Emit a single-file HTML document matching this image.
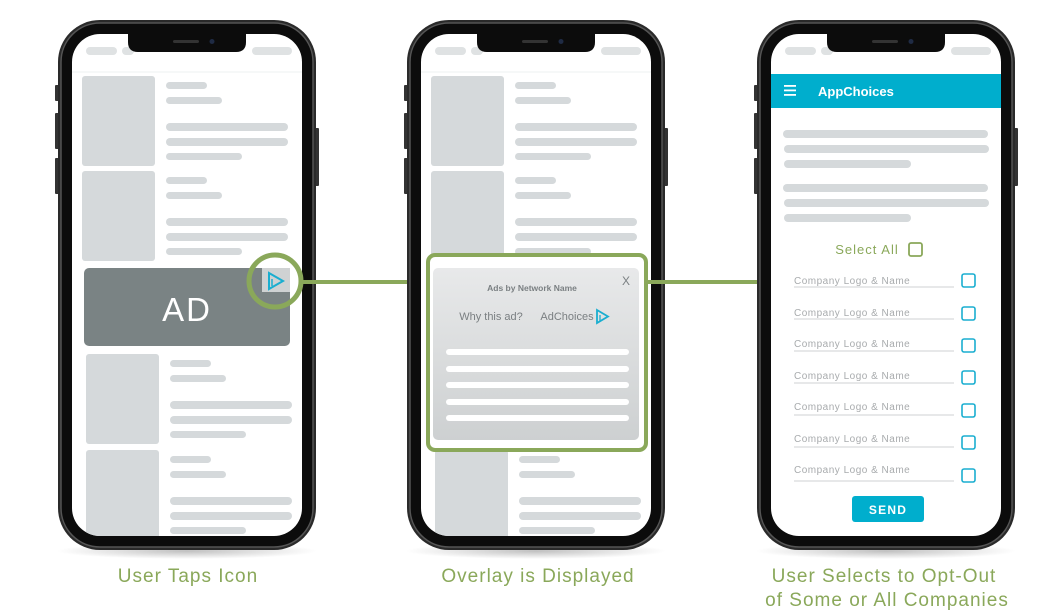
<!DOCTYPE html>
<html><head><meta charset="utf-8"><style>
html,body{margin:0;padding:0;background:#fff;}
svg{display:block;font-family:"Liberation Sans",sans-serif;}
</style></head><body>
<svg width="1061" height="616" viewBox="0 0 1061 616" xmlns="http://www.w3.org/2000/svg">
<defs>
<linearGradient id="ov" x1="0" y1="0" x2="0" y2="1"><stop offset="0" stop-color="#e8e9ea"/><stop offset="1" stop-color="#cdd0d1"/></linearGradient>
<radialGradient id="sh" cx="0.5" cy="0.5" r="0.5"><stop offset="0" stop-color="#000" stop-opacity="0.25"/><stop offset="1" stop-color="#000" stop-opacity="0"/></radialGradient>
<clipPath id="scr"><rect x="72" y="34" width="230" height="502" rx="28"/></clipPath>
<g id="phone">
  <ellipse cx="187" cy="551" rx="130" ry="8" fill="url(#sh)"/>
  <rect x="55" y="85" width="5" height="16" rx="1" fill="#333"/>
  <rect x="55" y="113" width="5" height="36" rx="1" fill="#333"/>
  <rect x="55" y="158" width="5" height="36" rx="1" fill="#333"/>
  <rect x="314" y="128" width="5" height="58" rx="1" fill="#333"/>
  <rect x="58" y="20" width="258" height="530" rx="42" fill="#2a2a2a"/>
  <rect x="61" y="23" width="252" height="524" rx="39" fill="#0c0c0c" stroke="#555" stroke-width="1.5"/>
  <rect x="72" y="34" width="230" height="502" rx="28" fill="#fff"/>
</g>
<g id="top">
  <rect x="86" y="47" width="31" height="8" rx="4" fill="#dfe2e3"/>
  <rect x="122" y="47" width="12" height="8" rx="4" fill="#dfe2e3"/>
  <rect x="252" y="47" width="40" height="8" rx="4" fill="#dfe2e3"/>
  <path d="M128 34 H246 V42 Q246 52 236 52 H138 Q128 52 128 42 Z" fill="#0c0c0c"/>
  <rect x="173" y="40" width="26" height="3" rx="1.5" fill="#333"/>
  <circle cx="212" cy="41.5" r="2.5" fill="#1f2b44"/>
</g>
<g id="blk">
  <rect x="0" y="0" width="73" height="90" rx="3" fill="#d5d9db"/>
  <rect x="84" y="6" width="41" height="7" rx="3.5" fill="#d5d9db"/>
  <rect x="84" y="21" width="56" height="7" rx="3.5" fill="#d5d9db"/>
  <rect x="84" y="47" width="122" height="8" rx="4" fill="#d5d9db"/>
  <rect x="84" y="62" width="122" height="8" rx="4" fill="#d5d9db"/>
  <rect x="84" y="77" width="76" height="7" rx="3.5" fill="#d5d9db"/>
</g>
<g id="feed">
  <line x1="72" y1="72" x2="302" y2="72" stroke="#eef0f0" stroke-width="1"/>
  <g clip-path="url(#scr)">
    <use href="#blk" x="82" y="76"/>
    <use href="#blk" x="82" y="171"/>
    <use href="#blk" x="86" y="354"/>
    <use href="#blk" x="86" y="450"/>
  </g>
</g>
<g id="cb"><rect x="0" y="0" width="13" height="13" rx="2" fill="none" stroke="#1aaed0" stroke-width="1.6"/></g>
</defs>

<!-- Phone 1 -->
<use href="#phone"/>
<use href="#feed"/>
<use href="#top"/>
<rect x="84" y="268" width="206" height="78" rx="5" fill="#7a8384"/>
<text x="187" y="321" text-anchor="middle" font-size="33" fill="#fff" letter-spacing="2">AD</text>
<rect x="262" y="268" width="28" height="24" fill="#cfd2d3"/>
<path d="M269 273 L283 281 L269 289 Z" fill="none" stroke="#1aaed0" stroke-width="2"/>
<line x1="272" y1="279" x2="272" y2="286" stroke="#1aaed0" stroke-width="1.5"/>
<line x1="300" y1="282" x2="430" y2="282" stroke="#8aa85a" stroke-width="4"/>
<circle cx="275" cy="281" r="26" fill="none" stroke="#8aa85a" stroke-width="5"/>

<!-- Phone 2 -->
<g transform="translate(349,0)">
  <use href="#phone"/>
  <use href="#feed"/>
  <use href="#top"/>
</g>
<line x1="645" y1="282" x2="757" y2="282" stroke="#8aa85a" stroke-width="4"/>
<rect x="428" y="255" width="218" height="195" rx="7" fill="#fff" stroke="#8aa85a" stroke-width="4"/>
<rect x="433" y="268" width="206" height="172" rx="5" fill="url(#ov)"/>
<text x="532" y="291" text-anchor="middle" font-size="8.5" font-weight="bold" fill="#7a7f82">Ads by Network Name</text>
<text x="626" y="285" text-anchor="middle" font-size="12" fill="#7a7f82">X</text>
<text x="491" y="320" text-anchor="middle" font-size="11" fill="#7a7f82">Why this ad?</text>
<text x="567" y="320" text-anchor="middle" font-size="11" fill="#7a7f82">AdChoices</text>
<path d="M597 310 L608 316.5 L597 323 Z" fill="none" stroke="#1aaed0" stroke-width="1.8"/>
<line x1="600" y1="315" x2="600" y2="321" stroke="#1aaed0" stroke-width="1.3"/>
<rect x="446" y="349" width="183" height="6" rx="3" fill="#fff"/>
<rect x="446" y="366" width="183" height="6" rx="3" fill="#fff"/>
<rect x="446" y="382" width="183" height="6" rx="3" fill="#fff"/>
<rect x="446" y="399" width="183" height="6" rx="3" fill="#fff"/>
<rect x="446" y="415" width="183" height="6" rx="3" fill="#fff"/>

<!-- Phone 3 -->
<g transform="translate(699,0)">
  <use href="#phone"/>
  <use href="#top"/>
</g>
<rect x="771" y="74" width="230" height="34" fill="#00aecd"/>
<rect x="784" y="85" width="12" height="1.8" fill="#fff"/>
<rect x="784" y="89.5" width="12" height="1.8" fill="#fff"/>
<rect x="784" y="94" width="12" height="1.8" fill="#fff"/>
<text x="818" y="96" font-size="13" font-weight="bold" fill="#fff">AppChoices</text>
<rect x="783" y="130" width="205" height="8" rx="4" fill="#d5d9db"/>
<rect x="784" y="145" width="205" height="8" rx="4" fill="#d5d9db"/>
<rect x="784" y="160" width="127" height="8" rx="4" fill="#d5d9db"/>
<rect x="783" y="184" width="205" height="8" rx="4" fill="#d5d9db"/>
<rect x="784" y="199" width="205" height="8" rx="4" fill="#d5d9db"/>
<rect x="784" y="214" width="127" height="8" rx="4" fill="#d5d9db"/>
<text x="867" y="254" text-anchor="middle" font-size="13" fill="#8aa85a" letter-spacing="1">Select All</text>
<rect x="909" y="243" width="13" height="13" rx="2" fill="none" stroke="#8aa85a" stroke-width="1.8"/>
<g font-size="10" fill="#a8abad" letter-spacing="0.5">
  <text x="794" y="284">Company Logo &amp; Name</text>
  <text x="794" y="316">Company Logo &amp; Name</text>
  <text x="794" y="347">Company Logo &amp; Name</text>
  <text x="794" y="379">Company Logo &amp; Name</text>
  <text x="794" y="410">Company Logo &amp; Name</text>
  <text x="794" y="442">Company Logo &amp; Name</text>
  <text x="794" y="473">Company Logo &amp; Name</text>
</g>
<g stroke="#cfd2d3" stroke-width="1">
  <line x1="794" y1="287" x2="954" y2="287"/>
  <line x1="794" y1="319" x2="954" y2="319"/>
  <line x1="794" y1="351" x2="954" y2="351"/>
  <line x1="794" y1="383" x2="954" y2="383"/>
  <line x1="794" y1="415" x2="954" y2="415"/>
  <line x1="794" y1="447" x2="954" y2="447"/>
  <line x1="794" y1="481" x2="954" y2="481"/>
</g>
<use href="#cb" x="962" y="274"/>
<use href="#cb" x="962" y="307"/>
<use href="#cb" x="962" y="339"/>
<use href="#cb" x="962" y="371"/>
<use href="#cb" x="962" y="404"/>
<use href="#cb" x="962" y="436"/>
<use href="#cb" x="962" y="469"/>
<rect x="852" y="496" width="72" height="26" rx="3" fill="#00aecd"/>
<text x="888" y="514" text-anchor="middle" font-size="12" font-weight="bold" fill="#fff" letter-spacing="1.2">SEND</text>

<!-- Captions -->
<g font-size="19" fill="#8aa85a" text-anchor="middle" letter-spacing="1">
  <text x="188" y="582">User Taps Icon</text>
  <text x="538" y="582">Overlay is Displayed</text>
  <text x="884" y="582">User Selects to Opt-Out</text>
  <text x="887" y="606">of Some or All Companies</text>
</g>
</svg>
</body></html>
